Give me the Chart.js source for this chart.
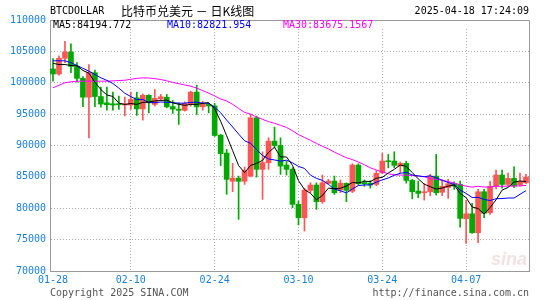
<!DOCTYPE html>
<html>
<head>
<meta charset="utf-8">
<style>
  html, body { margin: 0; padding: 0; background: #fff; }
</style>
<script src="https://cdn.jsdelivr.net/npm/chart.js@4.4.1/dist/chart.umd.min.js"></script>
</head>
<body>
<canvas id="myChart" width="545" height="300"></canvas>
<script>
// daily candles, 01-28 .. 04-17
const dates = [
  '01-28','01-29','01-30','01-31',
  '02-01','02-02','02-03','02-04','02-05','02-06','02-07','02-08','02-09','02-10',
  '02-11','02-12','02-13','02-14','02-15','02-16','02-17','02-18','02-19','02-20',
  '02-21','02-22','02-23','02-24','02-25','02-26','02-27','02-28',
  '03-01','03-02','03-03','03-04','03-05','03-06','03-07','03-08','03-09','03-10',
  '03-11','03-12','03-13','03-14','03-15','03-16','03-17','03-18','03-19','03-20',
  '03-21','03-22','03-23','03-24','03-25','03-26','03-27','03-28','03-29','03-30','03-31',
  '04-01','04-02','04-03','04-04','04-05','04-06','04-07','04-08','04-09','04-10',
  '04-11','04-12','04-13','04-14','04-15','04-16','04-17'
];
const opens = [
  102200,101400,103900,104900,102600,100700,97700,101600,97800,96800,
  96650,96650,96450,96450,97600,95830,98000,96550,97440,97700,
  96200,95800,95600,96600,98500,96160,96550,96300,91650,88800,
  84300,84800,84300,85130,94410,86200,87250,90700,90000,86880,
  86200,80620,78490,82850,83700,81040,83960,84330,82900,83960,
  82700,86880,84100,84000,83800,85660,87520,87520,86720,87150,
  84440,82740,82470,82630,85130,82550,83300,83900,83800,78330,
  79120,76100,82630,79300,83500,85290,83800,84760,83700,84060
];
const highs = [
  103870,104300,106600,106200,103200,101000,102900,102000,99300,99300,
  98500,97870,97700,98500,98500,98200,98100,98930,98140,98140,
  97180,96800,96960,98660,99620,97070,96700,96700,91800,89370,
  87150,85130,86560,94950,94680,89000,91230,92930,91230,87500,
  86450,81150,83170,84060,84060,85290,84600,85130,84500,84060,
  87090,87090,84500,84400,86000,88740,88580,89000,87360,87500,
  84600,84330,83900,85400,88580,84500,84600,84200,84330,81260,
  80800,83010,83010,84300,86100,86100,85600,86600,85600,85400
];
const lows = [
  100250,101200,103200,101600,100100,96200,91200,96200,96100,95640,
  95640,95750,94700,95750,94800,94050,95210,96280,97180,96000,
  95110,93360,95480,96280,94950,95640,95210,91450,86800,82210,
  82630,78230,83800,85000,84970,81420,86200,89640,85400,85290,
  80080,77330,76370,82470,79830,80780,83850,82210,82500,81040,
  82500,83700,83500,83200,83600,85500,86450,86450,85660,84000,
  81500,81670,81300,82000,82100,82000,81580,83000,77000,74410,
  76000,74510,78500,79000,83100,83200,83600,83270,83500,83900
];
const closes = [
  101400,103900,104900,102600,100700,97700,101700,97800,96600,96500,
  96450,96500,96650,97340,95830,98000,96800,97500,97760,96160,
  95800,95600,96700,98500,96160,96600,96300,91600,88700,84600,
  84800,84300,86030,94410,86200,87250,90700,90000,86720,86200,
  80620,78490,82900,83700,81040,84060,84330,82470,84000,82850,
  86880,83900,83900,83700,85560,87520,87410,86830,87150,84440,
  82630,82370,82630,85130,82470,83500,83900,83530,78390,79120,
  76100,82630,79200,83500,85300,83800,84760,83530,84300,84970
];

// moving average values before enough candles exist
const ma5Head = [103100, 102900, 102900, 102750];
const ma10Head = [103500, 103500, 103500, 103200, 102750, 102300, 101850, 101300, 100780];
const ma30Head = [
  99200, 99600, 100000, 100150, 100250, 100250, 100250, 100250, 100250, 100250,
  100300, 100350, 100400, 100550, 100700, 100780, 100750, 100650, 100520, 100300,
  100050, 99850, 99650, 99450, 99150, 98750, 98350, 97900, 97400
];

const xTickLabels = ['01-28', '02-10', '02-24', '03-10', '03-24', '04-07'];
const maTexts = ['MA5:84194.772', 'MA10:82821.954', 'MA30:83675.1567'];

const UP = '#ff5555';
const DOWN = '#00a800';
const AXIS_BLUE = '#1a7fd4';
const MONO = '10px "DejaVu Sans Mono", monospace';

function movingAverage(head, n) {
    return closes.map((c, i) => {
        if (i < head.length) return head[i];
        let s = 0;
        for (let k = i - n + 1; k <= i; k++) s += closes[k];
        return s / n;
    });
}

const candleColors = closes.map((c, i) => c >= opens[i] ? UP : DOWN);

const framePlugin = {
    id: 'frame',
    beforeDatasetsDraw(chart) {
        const { ctx, chartArea: a } = chart;
        ctx.save();
        // white strip for the MA legend
        ctx.fillStyle = '#fff';
        ctx.fillRect(a.left + 1, a.top + 1, a.right - a.left - 2, 8);
        ctx.strokeStyle = '#999';
        ctx.lineWidth = 1;
        ctx.beginPath();
        ctx.moveTo(a.left, a.top + 0.5);
        ctx.lineTo(a.right + 0.5, a.top + 0.5);
        ctx.lineTo(a.right + 0.5, a.bottom);
        ctx.stroke();
        ctx.restore();
    },
    afterDraw(chart) {
        const { ctx, chartArea: a } = chart;
        ctx.save();
        ctx.textBaseline = 'middle';
        // title row
        ctx.fillStyle = '#000';
        ctx.font = MONO;
        ctx.textAlign = 'left';
        ctx.fillText('BTCDOLLAR', a.left, 11.5);
        ctx.font = '12px "Noto Sans CJK SC"';
        ctx.fillText('比特币兑美元 － 日K线图', 121, 11.5);
        ctx.font = MONO;
        ctx.textAlign = 'right';
        ctx.fillText('2025-04-18 17:24:09', a.right, 11.5);

        // MA legend
        ctx.textAlign = 'left';
        const maColors = ['#000', '#0000ff', '#ff00ff'];
        const maX = [a.left + 3, 167, 283];
        maTexts.forEach((t, i) => {
            ctx.fillStyle = maColors[i];
            ctx.fillText(t, maX[i], a.top + 5);
        });

        // footer
        ctx.fillStyle = '#555';
        ctx.fillText('Copyright 2025 SINA.COM', a.left, 293);
        ctx.textAlign = 'right';
        ctx.fillText('http://finance.sina.com.cn', a.right, 293);

        // watermark
        ctx.fillStyle = 'rgba(220, 170, 170, 0.35)';
        ctx.font = 'italic bold 18px "Liberation Sans"';
        ctx.textBaseline = 'alphabetic';
        ctx.fillText('sina', a.right - 2, a.bottom - 6);
        ctx.restore();
    }
};

const ctx = document.getElementById('myChart').getContext('2d');
const myChart = new Chart(ctx, {
    type: 'bar',
    data: {
        labels: dates,
        datasets: [
            {
                label: 'MA5',
                type: 'line',
                data: movingAverage(ma5Head, 5),
                borderColor: '#000',
                borderWidth: 1,
                pointRadius: 0,
                tension: 0,
                order: 0
            },
            {
                label: 'MA10',
                type: 'line',
                data: movingAverage(ma10Head, 10),
                borderColor: '#0000ff',
                borderWidth: 1,
                pointRadius: 0,
                tension: 0,
                order: 0
            },
            {
                label: 'MA30',
                type: 'line',
                data: movingAverage(ma30Head, 30),
                borderColor: '#ff00ff',
                borderWidth: 1,
                pointRadius: 0,
                tension: 0,
                order: 0
            },
            {
                label: 'body',
                data: opens.map((o, i) => [o, closes[i]]),
                backgroundColor: candleColors,
                barThickness: 5,
                minBarLength: 1,
                grouped: false,
                order: 1
            },
            {
                label: 'wick',
                data: lows.map((l, i) => [l, highs[i]]),
                backgroundColor: candleColors,
                barThickness: 1,
                grouped: false,
                order: 2
            }
        ]
    },
    options: {
        responsive: false,
        animation: false,
        devicePixelRatio: 1,
        layout: { padding: { top: 20, right: 16, bottom: 0, left: 0 } },
        plugins: {
            legend: { display: false },
            tooltip: { enabled: false }
        },
        scales: {
            x: {
                type: 'category',
                offset: true,
                grid: {
                    offset: false,
                    drawTicks: false,
                    color: c => (c.index > 0 && xTickLabels.includes(dates[c.index])) ? '#aaa' : 'rgba(0,0,0,0)'
                },
                border: { color: '#999', dash: [1, 2] },
                ticks: {
                    autoSkip: false,
                    maxRotation: 0,
                    padding: 3,
                    color: AXIS_BLUE,
                    font: { family: '"DejaVu Sans Mono"', size: 10 },
                    callback: (v, i) => xTickLabels.includes(dates[i]) ? dates[i] : ''
                },
                afterFit: s => { s.height = 29; }
            },
            y: {
                min: 70000,
                max: 110000,
                grid: { drawTicks: false, color: '#aaa' },
                border: { color: '#999', dash: [1, 2] },
                ticks: {
                    stepSize: 5000,
                    padding: 4,
                    color: AXIS_BLUE,
                    font: { family: '"DejaVu Sans Mono"', size: 10 },
                    callback: v => String(v)
                },
                afterFit: s => { s.width = 50; }
            }
        }
    },
    plugins: [framePlugin]
});
</script>
</body>
</html>
